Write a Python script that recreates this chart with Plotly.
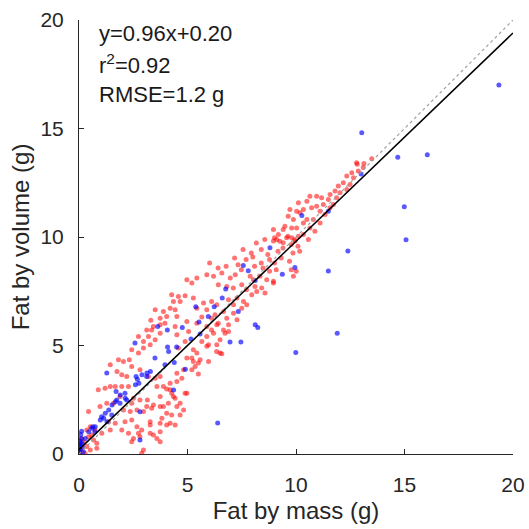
import plotly.graph_objects as go

# Fat by mass (g), Fat by volume (g) -- red group
red_points = [
    (8.17, 9.72), (8.56, 9.88), (9.01, 9.96), (9.25, 9.80), (9.63, 10.03), (9.93, 9.88), (10.09, 9.57), (9.78, 9.65), (9.40, 9.49),
    (7.56, 9.42), (7.94, 9.26), (8.40, 9.42), (8.70, 9.19), (9.17, 9.34), (9.86, 9.26), (10.17, 9.34),
    (7.17, 9.03), (7.70, 8.96), (8.01, 9.08), (8.40, 8.80), (8.78, 8.96), (9.01, 8.80), (9.32, 9.03), (9.70, 8.88),
    (6.02, 8.80), (6.41, 8.57), (6.78, 8.65), (7.33, 8.72), (7.48, 8.49), (8.09, 8.65), (8.48, 8.57), (8.78, 8.42), (9.09, 8.49), (9.78, 8.49), (10.01, 8.42),
    (4.97, 8.03), (5.20, 7.88), (5.43, 8.11), (5.89, 8.26), (6.20, 8.19), (6.58, 8.34), (6.97, 8.11), (7.20, 8.26), (7.89, 8.19), (8.04, 8.03), (8.34, 8.19), (8.65, 8.03), (8.96, 7.96), (9.88, 8.19),
    (6.42, 7.80), (6.81, 7.72), (7.11, 7.65), (7.50, 7.80), (7.72, 7.57), (8.11, 7.72), (8.42, 7.65), (8.57, 7.42), (8.96, 7.88), (7.96, 7.34), (8.19, 7.49),
    (4.27, 7.34), (4.58, 7.26), (4.89, 7.29), (4.66, 7.03), (4.35, 7.03), (5.27, 7.19), (5.74, 6.96), (6.11, 7.03), (6.35, 6.88), (6.89, 7.11), (7.28, 7.19), (7.12, 6.88), (7.58, 7.03), (7.50, 6.72), (7.73, 6.88),
    (3.51, 6.65), (3.89, 6.57), (4.20, 6.72), (4.43, 6.65), (4.04, 6.34), (4.51, 6.34), (3.74, 6.26), (3.31, 6.16), (5.43, 6.72), (5.89, 6.65), (6.27, 6.42), (6.66, 6.57), (6.81, 6.26), (7.12, 6.49), (7.28, 6.19), (6.11, 6.26), (5.66, 6.31), (6.42, 6.03), (6.89, 5.96),
    (3.12, 5.72), (3.43, 5.88), (3.74, 5.96), (3.96, 6.03), (2.74, 5.42), (3.20, 5.42), (2.97, 5.19), (3.35, 5.72), (4.43, 5.88), (4.97, 6.11), (5.43, 6.03), (5.89, 5.88), (6.11, 5.72), (6.35, 5.96), (6.66, 5.72), (5.89, 5.42), (6.20, 5.57), (6.50, 5.26), (5.66, 5.19), (5.97, 5.03), (6.35, 5.03), (6.50, 4.65), (6.73, 5.57), (6.89, 5.65), (5.89, 4.96), (5.05, 5.65),
    (2.43, 4.80), (2.74, 4.65), (2.97, 4.88), (3.28, 5.03), (3.51, 5.26), (3.74, 5.57), (2.32, 4.34), (2.05, 4.26), (1.82, 4.34), (4.51, 5.49), (4.89, 5.19), (4.58, 4.88), (5.27, 4.80), (5.43, 4.65), (4.97, 4.42), (5.27, 4.26), (5.58, 4.34), (5.50, 4.19), (5.35, 4.03), (5.20, 3.88), (4.82, 3.88), (4.51, 3.72), (4.74, 3.49), (4.51, 3.34), (4.20, 3.26), (3.89, 3.11),
    (1.44, 4.11), (1.75, 3.80), (1.97, 3.65), (2.20, 3.57), (2.43, 4.03), (2.81, 3.88), (3.20, 3.57), (3.51, 3.49), (3.74, 3.57), (3.59, 3.11), (4.04, 2.99), (4.20, 2.96), (4.27, 2.80), (3.74, 2.65), (4.35, 2.65), (4.43, 2.57), (4.89, 2.80), (4.12, 2.34), (4.66, 2.34), (4.51, 2.19), (4.82, 2.03), (4.66, 1.80), (4.27, 1.80), (4.04, 1.88), (3.82, 1.65), (3.74, 1.42), (4.04, 1.34), (4.20, 1.42), (4.43, 1.34), (3.28, 1.49), (3.28, 1.34), (3.28, 0.96), (3.43, 0.88), (3.74, 1.03), (3.59, 0.72), (3.74, 0.57),
    (0.89, 2.96), (1.20, 3.03), (1.44, 3.11), (1.67, 3.11), (1.97, 3.11), (2.28, 3.11), (1.89, 2.65), (2.51, 2.57), (2.81, 2.49), (2.43, 2.34), (2.05, 2.03), (1.28, 2.34), (1.59, 2.34), (0.97, 2.19), (2.36, 1.96), (2.67, 2.03), (2.97, 1.96), (3.12, 2.19), (2.43, 1.57), (2.12, 1.49), (1.67, 1.42), (1.36, 1.49), (2.67, 1.26), (2.89, 1.11), (1.97, 1.11), (2.28, 0.96), (1.44, 1.11), (1.05, 0.96), (0.74, 1.11), (0.52, 1.26), (0.44, 1.96), (0.44, 0.80), (0.67, 0.65), (0.82, 0.49), (2.43, 0.57), (2.51, 0.72), (2.97, 0.19), (2.89, 0.03), (2.81, 0.80), (2.74, 0.96), (3.15, 2.49), (3.43, 2.26), (3.35, 2.11), (3.74, 2.19), (3.89, 2.19),
    (0.20, 0.57), (0.36, 0.34), (0.13, 0.19), (0.05, 0.03), (0.52, 0.19), (0.82, 0.26), (0.28, 0.02), (0.02, 0.02), (0.13, 0.72), (0.36, 1.11), (0.59, 0.88),
    (6.34, 4.72), (6.58, 4.62), (5.97, 4.26), (5.20, 4.42), (5.50, 3.69), (4.97, 2.80),
    (12.82, 13.35), (13.13, 13.39), (12.57, 12.96), (12.87, 13.04), (12.34, 12.81), (12.65, 12.73), (12.18, 12.50), (12.49, 12.42), (11.95, 12.35), (12.34, 12.19), (12.03, 12.04), (11.80, 12.12), (11.57, 11.96), (11.87, 11.81), (11.49, 11.73), (11.18, 11.81), (10.95, 11.88), (10.64, 11.88), (10.50, 11.65), (11.26, 11.50), (10.95, 11.42), (10.72, 11.35), (11.11, 11.19), (11.34, 11.04), (11.57, 11.35), (11.72, 11.50), (10.34, 11.27), (10.19, 11.12), (10.03, 11.19), (9.88, 10.81), (10.50, 10.81), (10.11, 11.58), (9.72, 11.27), (9.64, 10.96), (10.80, 10.81), (11.11, 10.65), (10.64, 10.42), (10.34, 10.65), (10.87, 10.27), (10.03, 10.42), (9.80, 10.42), (9.49, 10.50), (9.41, 10.35), (9.19, 10.12), (8.96, 10.35), (9.11, 9.88), (9.57, 9.96), (9.80, 9.96), (10.11, 10.04), (10.34, 10.12), (10.57, 9.88), (9.41, 9.73), (8.96, 9.81), (9.95, 9.81),
    (13.49, 13.61), (13.10, 13.20), (12.79, 13.42),
]

# blue group
blue_points = [
    (19.35, 17.00), (13.03, 14.80), (14.69, 13.68), (16.05, 13.79), (14.99, 11.39), (15.07, 9.87), (13.00, 12.90), (10.27, 10.99), (11.49, 11.19),
    (8.80, 9.50), (12.39, 9.36), (9.95, 8.60), (11.49, 8.43), (11.90, 5.57), (9.99, 4.68), (6.39, 1.43), (4.90, 3.91),
    (9.37, 8.28), (7.57, 8.69), (7.80, 8.45), (8.12, 7.99), (6.76, 7.60), (6.60, 7.19), (5.38, 6.79), (6.23, 6.79), (7.34, 6.57), (5.96, 6.34), (5.53, 6.08), (8.12, 5.96), (8.24, 5.83), (5.58, 5.53), (5.16, 5.30), (6.96, 5.16), (7.46, 5.16),
    (3.63, 5.88), (4.07, 5.72), (4.76, 5.83), (2.58, 5.11), (4.08, 4.93), (4.50, 4.93), (3.50, 4.42), (3.96, 4.11), (4.39, 4.22), (2.63, 3.57), (3.12, 3.57), (2.69, 3.45), (1.28, 3.73), (1.71, 2.88), (2.12, 2.80), (1.74, 2.49), (2.20, 2.49), (1.89, 2.34), (2.81, 1.95), (1.51, 1.80), (1.04, 1.72), (0.64, 1.26), (0.73, 1.03), (0.05, 0.49), (0.02, 0.18), (2.81, 0.65),
    (2.90, 3.65), (3.13, 3.73), (3.29, 3.80), (2.60, 3.19), (2.76, 3.26), (4.13, 4.72), (1.90, 2.72), (2.13, 2.57), (1.68, 2.41), (1.52, 2.26), (1.37, 2.03), (1.21, 1.88), (1.14, 1.65), (0.98, 1.57), (1.29, 1.49), (0.75, 1.26), (0.59, 1.19), (0.45, 1.03), (0.29, 0.72), (0.14, 0.49), (0.03, 0.34), (0.00, 0.18), (4.36, 2.95),
    (0.02, 0.05), (0.05, 0.40), (0.10, 0.70), (0.08, 0.90), (0.15, 0.30), (0.20, 0.10), (0.03, 0.60), (0.12, 1.05),
]

fit_slope = 0.96
fit_intercept = 0.20
axis_range = [0, 20]
tick_vals = [0, 5, 10, 15, 20]
stats_text = ["y=0.96x+0.20", "r<sup>2</sup>=0.92", "RMSE=1.2 g"]

FONT = "Liberation Sans, Arial, Helvetica, sans-serif"
AX = "#262626"

fig = go.Figure()
fig.add_trace(go.Scatter(
    x=[p[0] for p in red_points], y=[p[1] for p in red_points], mode="markers",
    marker=dict(color="rgba(255,0,0,0.55)", size=5, line=dict(width=0)),
    showlegend=False, hoverinfo="skip"))
fig.add_trace(go.Scatter(
    x=[p[0] for p in blue_points], y=[p[1] for p in blue_points], mode="markers",
    marker=dict(color="rgba(0,0,255,0.65)", size=5, line=dict(width=0)),
    showlegend=False, hoverinfo="skip"))
fig.add_trace(go.Scatter(
    x=axis_range, y=axis_range, mode="lines",
    line=dict(color="#a0a0a0", width=1.2, dash="dot"), showlegend=False, hoverinfo="skip"))
fig.add_trace(go.Scatter(
    x=axis_range, y=[fit_slope * v + fit_intercept for v in axis_range], mode="lines",
    line=dict(color="black", width=1.5), showlegend=False, hoverinfo="skip"))

for i, (t, yy) in enumerate(zip(stats_text, [19.4, 17.95, 16.55])):
    fig.add_annotation(x=0.85, y=yy, xref="x", yref="y", text=t, showarrow=False,
                       xanchor="left", yanchor="middle",
                       font=dict(family=FONT, size=22, color="#1a1a1a"))

axis_common = dict(range=axis_range, tickvals=tick_vals, showgrid=False, zeroline=False,
                   showline=True, linecolor=AX, linewidth=1, ticks="inside", ticklen=5,
                   tickcolor=AX, tickfont=dict(family=FONT, size=21, color=AX),
                   automargin=False)
fig.update_xaxes(**axis_common, ticklabelstandoff=12,
                 title=dict(text="Fat by mass (g)", font=dict(family=FONT, size=24, color=AX), standoff=6))
fig.update_yaxes(**axis_common, ticklabelstandoff=10,
                 title=dict(text="Fat by volume (g)", font=dict(family=FONT, size=24, color=AX), standoff=4))

fig.update_layout(width=529, height=529, margin=dict(l=79, r=16, t=20, b=75),
                  plot_bgcolor="white", paper_bgcolor="white", font=dict(family=FONT))
fig.write_html("out.html")
